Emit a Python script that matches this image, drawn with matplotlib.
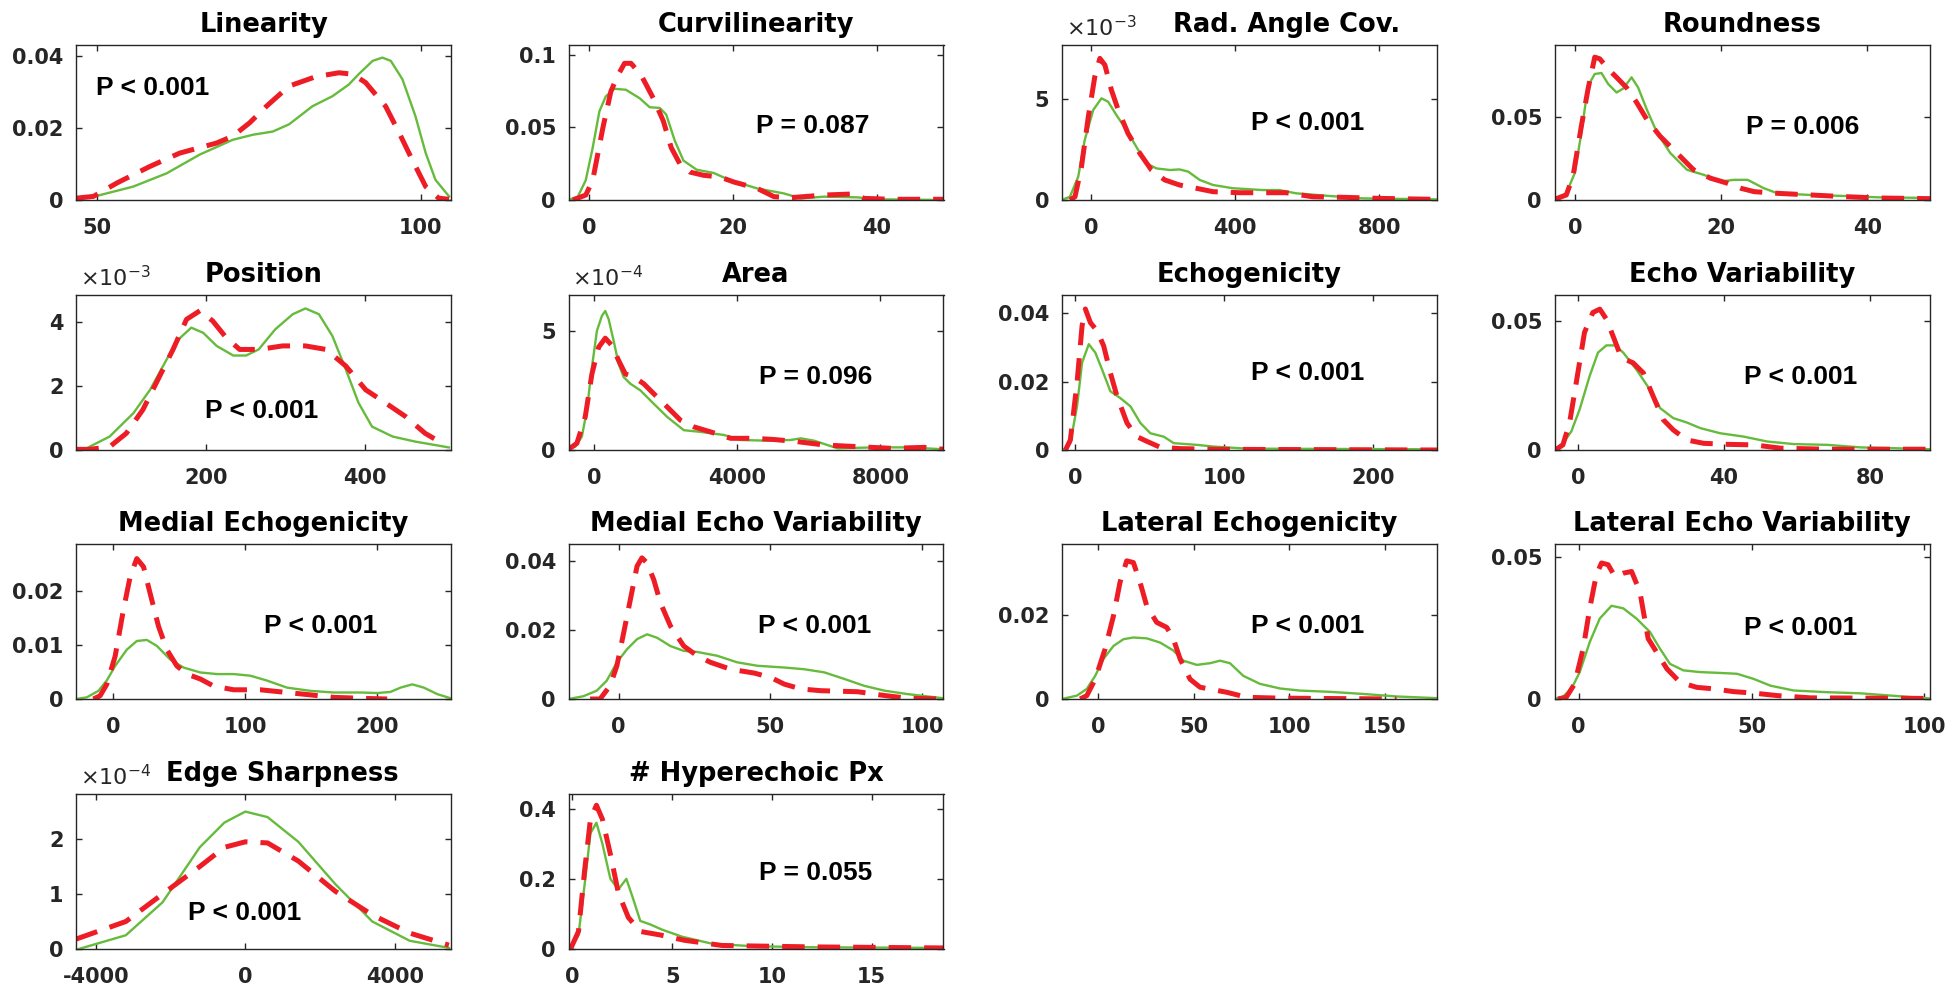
import matplotlib
matplotlib.use('Agg')
import matplotlib.pyplot as plt

plt.rcParams['axes.unicode_minus'] = False
plt.rcParams['font.family'] = ['DejaVu Sans']

# ---------------- data ----------------
titles = ['Linearity', 'Curvilinearity', 'Rad. Angle Cov.', 'Roundness',
          'Position', 'Area', 'Echogenicity', 'Echo Variability',
          'Medial Echogenicity', 'Medial Echo Variability', 'Lateral Echogenicity',
          'Lateral Echo Variability', 'Edge Sharpness', '# Hyperechoic Px']
p_texts = ['P < 0.001', 'P = 0.087', 'P < 0.001', 'P = 0.006',
           'P < 0.001', 'P = 0.096', 'P < 0.001', 'P < 0.001',
           'P < 0.001', 'P < 0.001', 'P < 0.001', 'P < 0.001',
           'P < 0.001', 'P = 0.055']
y_exponents = [None, None, -3, None, -3, -4, None, None, None, None, None, None, -4, None]

x_limits = [(46.8, 104.7), (-2.9, 49.3), (-80, 960), (-2.85, 48.5),
            (35.6, 508.6), (-720, 9766), (-9, 243), (-6.4, 96.2),
            (-28.4, 256), (-16.5, 107.1), (-19.1, 177.4), (-7, 101.5),
            (-4533, 5507), (-0.2, 18.6)]
y_tops = [0.043, 0.1066, 7.65, 0.093, 4.84, 6.5, 0.0454, 0.0603,
          0.0286, 0.0448, 0.0368, 0.0547, 2.82, 0.442]

x_ticks = [[50, 100], [0, 20, 40], [0, 400, 800], [0, 20, 40],
           [200, 400], [0, 4000, 8000], [0, 100, 200], [0, 40, 80],
           [0, 100, 200], [0, 50, 100], [0, 50, 100, 150], [0, 50, 100],
           [-4000, 0, 4000], [0, 5, 10, 15]]
x_tick_labels = [['50', '100'], ['0', '20', '40'], ['0', '400', '800'], ['0', '20', '40'],
                 ['200', '400'], ['0', '4000', '8000'], ['0', '100', '200'], ['0', '40', '80'],
                 ['0', '100', '200'], ['0', '50', '100'], ['0', '50', '100', '150'], ['0', '50', '100'],
                 ['-4000', '0', '4000'], ['0', '5', '10', '15']]
y_ticks = [[0, 0.02, 0.04], [0, 0.05, 0.1], [0, 5], [0, 0.05],
           [0, 2, 4], [0, 5], [0, 0.02, 0.04], [0, 0.05],
           [0, 0.01, 0.02], [0, 0.02, 0.04], [0, 0.02], [0, 0.05],
           [0, 1, 2], [0, 0.2, 0.4]]
y_tick_labels = [['0', '0.02', '0.04'], ['0', '0.05', '0.1'], ['0', '5'], ['0', '0.05'],
                 ['0', '2', '4'], ['0', '5'], ['0', '0.02', '0.04'], ['0', '0.05'],
                 ['0', '0.01', '0.02'], ['0', '0.02', '0.04'], ['0', '0.02'], ['0', '0.05'],
                 ['0', '1', '2'], ['0', '0.2', '0.4']]

# Linearity
linearity_g_x = [49.7, 55.6, 60.8, 65.9, 71.0, 74.1, 77.2, 79.7, 83.3, 86.4, 88.9, 90.5, 92.6, 94.1, 95.4, 97.2, 99.2, 100.8, 102.3, 104.4]
linearity_g_y = [0.001, 0.0037, 0.0074, 0.0126, 0.0167, 0.0181, 0.019, 0.021, 0.026, 0.0288, 0.032, 0.035, 0.0386, 0.0395, 0.0386, 0.0335, 0.0233, 0.013, 0.0056, 0.001]
linearity_r_x = [46.8, 49.5, 53.1, 58.2, 62.8, 68.5, 71.0, 73.6, 76.2, 79.7, 83.8, 87.4, 89.5, 91.5, 94.6, 96.7, 98.7, 100.8, 102.8, 104.4]
linearity_r_y = [0.0005, 0.001, 0.0047, 0.0093, 0.013, 0.0158, 0.0177, 0.0214, 0.026, 0.0316, 0.0342, 0.0353, 0.0349, 0.0326, 0.026, 0.0186, 0.0112, 0.0037, 0.0005, 0.0002]

# Curvilinearity
curvi_g_x = [-2.9, -1.6, -0.5, 0.47, 1.4, 2.3, 3.5, 5.1, 7.0, 8.4, 9.8, 10.7, 11.9, 13.1, 14.95, 17.3, 19.6, 23.4, 27.1, 29.4, 32.7, 37.4, 39.7, 49.3]
curvi_g_y = [0, 0.0023, 0.0136, 0.036, 0.061, 0.0713, 0.0765, 0.0758, 0.070, 0.0638, 0.0633, 0.0588, 0.0407, 0.0271, 0.0208, 0.0186, 0.0136, 0.0079, 0.0045, 0.0011, 0.0023, 0.0018, 0.0005, 0]
curvi_r_x = [-2.3, -0.5, 0.47, 1.9, 3.0, 4.0, 4.9, 5.8, 7.2, 8.9, 10.3, 11.4, 12.6, 14.0, 15.9, 18.2, 20.1, 23.4, 25.7, 28.0, 32.7, 36.4, 38.3, 42.0, 49.3]
curvi_r_y = [0, 0.0034, 0.0136, 0.05, 0.0747, 0.086, 0.094, 0.094, 0.086, 0.070, 0.0543, 0.036, 0.0249, 0.0192, 0.017, 0.0158, 0.0124, 0.0079, 0.0023, 0.0016, 0.0034, 0.0041, 0.0011, 0.0005, 0.0005]

# Rad. Angle Cov. (x1e-3)
radang_g_x = [-81, -58, -35, -17, 6.5, 29.5, 48, 71, 99, 126, 154, 182, 219, 246, 270, 302, 339, 394, 477, 523, 569, 661, 754, 961]
radang_g_y = [0, 0.16, 1.15, 2.96, 4.44, 5.02, 4.85, 4.19, 3.45, 2.63, 1.81, 1.56, 1.48, 1.51, 1.4, 0.99, 0.74, 0.58, 0.49, 0.49, 0.33, 0.2, 0.08, 0.03]
radang_r_x = [-58, -44, -26, -7, 11, 25, 39, 57, 76, 103, 136, 168, 205, 246, 292, 339, 412, 477, 541, 615, 707, 800, 961]
radang_r_y = [0, 0.16, 1.64, 4.11, 6.09, 6.99, 6.66, 5.43, 4.44, 3.29, 2.3, 1.48, 0.99, 0.74, 0.58, 0.41, 0.36, 0.36, 0.36, 0.16, 0.13, 0.08, 0.03]

# Roundness
round_g_x = [-2.85, -1.24, -0.09, 0.83, 1.74, 2.66, 3.58, 4.5, 5.65, 6.57, 7.7, 8.6, 9.78, 11.2, 13.0, 15.3, 17.6, 19.9, 21.7, 23.6, 25.8, 27.7, 32.3, 36.9, 41.5, 48.6]
round_g_y = [0.0004, 0.004, 0.016, 0.0403, 0.0685, 0.0756, 0.0762, 0.0696, 0.0645, 0.0669, 0.0736, 0.0675, 0.0544, 0.0403, 0.0282, 0.0181, 0.0151, 0.0111, 0.0121, 0.0121, 0.0071, 0.004, 0.003, 0.0024, 0.0016, 0.0012]
round_r_x = [-2.85, -1.24, -0.32, 0.83, 1.74, 2.66, 3.35, 4.5, 5.65, 7.0, 8.4, 9.78, 11.6, 13.9, 16.2, 18.5, 20.8, 22.6, 24.5, 27.7, 32.3, 36.9, 41.5, 48.6]
round_r_y = [0.0004, 0.003, 0.0141, 0.0444, 0.0665, 0.0857, 0.0847, 0.0786, 0.0736, 0.0675, 0.0585, 0.0484, 0.0383, 0.0282, 0.0181, 0.0131, 0.0101, 0.0071, 0.005, 0.004, 0.003, 0.002, 0.0012, 0.0008]

# Position (x1e-3)
pos_g_x = [51, 78, 108, 129, 150, 166, 181, 196, 213, 234, 250, 266, 287, 309, 325, 342, 359, 376, 392, 409, 435, 464, 506]
pos_g_y = [0.08, 0.42, 1.15, 1.88, 2.83, 3.48, 3.82, 3.66, 3.25, 2.95, 2.95, 3.14, 3.77, 4.24, 4.42, 4.24, 3.56, 2.51, 1.47, 0.73, 0.42, 0.26, 0.08]
pos_r_x = [36, 53, 78, 99, 120, 141, 158, 175, 192, 208, 225, 242, 267, 296, 325, 351, 376, 401, 426, 451, 476, 501]
pos_r_y = [0.02, 0.02, 0.1, 0.52, 1.26, 2.3, 3.14, 4.08, 4.35, 4.03, 3.51, 3.14, 3.14, 3.25, 3.25, 3.14, 2.62, 1.88, 1.47, 1.05, 0.52, 0.16]

# Area (x1e-4)
area_g_x = [-720, -533, -346, -206, -65, 75, 215, 308, 402, 542, 682, 822, 1009, 1290, 1664, 2037, 2505, 2972, 3626, 4093, 4841, 5495, 5776, 6150, 6804, 7832, 8766, 9766]
area_g_y = [0.03, 0.14, 0.56, 1.67, 3.47, 5.0, 5.63, 5.83, 5.49, 4.58, 3.61, 3.06, 2.78, 2.5, 1.94, 1.39, 0.83, 0.76, 0.63, 0.42, 0.39, 0.42, 0.49, 0.39, 0.07, 0.11, 0.11, 0.03]
area_r_x = [-720, -486, -252, -65, 122, 308, 495, 682, 869, 1103, 1383, 1664, 2037, 2411, 2785, 3252, 3813, 4467, 5028, 5682, 6430, 7364, 8299, 9234, 9766]
area_r_y = [0.03, 0.28, 1.39, 3.19, 4.31, 4.69, 4.38, 3.75, 3.19, 3.06, 2.78, 2.36, 1.81, 1.25, 0.97, 0.76, 0.49, 0.49, 0.44, 0.35, 0.21, 0.14, 0.07, 0.11, 0.03]

# Echogenicity
echo_g_x = [-7.8, -3.4, 1.1, 4.5, 9.0, 13.4, 17.9, 23.5, 30.2, 37.0, 43.7, 50.4, 59.4, 66.1, 81.8, 93, 115, 243]
echo_g_y = [0, 0.002, 0.0128, 0.0256, 0.031, 0.0285, 0.0236, 0.0172, 0.0152, 0.0128, 0.0079, 0.0049, 0.0039, 0.002, 0.0015, 0.001, 0.0004, 0.0002]
echo_r_x = [-6.7, -3.4, 1.1, 4.5, 6.7, 10.1, 14.6, 19.0, 23.5, 28.0, 34.7, 41.4, 48.2, 57.0, 70.5, 93, 243]
echo_r_y = [0, 0.0029, 0.0197, 0.0364, 0.0413, 0.0373, 0.0349, 0.0305, 0.0226, 0.0157, 0.0079, 0.0039, 0.0025, 0.0008, 0.0004, 0.0002, 0]

# Echo Variability
echovar_g_x = [-6.2, -4.1, -1.8, 0.46, 3.2, 5.5, 7.8, 10.1, 12.4, 16.0, 19.7, 22.5, 26.1, 29.8, 33.5, 39.0, 45.4, 51.8, 59.1, 68.3, 77.5, 86.6, 96.2]
echovar_g_y = [0.0003, 0.0026, 0.0072, 0.0157, 0.0287, 0.0379, 0.0407, 0.0407, 0.0379, 0.0313, 0.0235, 0.0163, 0.0124, 0.0107, 0.0085, 0.0065, 0.0052, 0.0033, 0.0023, 0.002, 0.001, 0.0007, 0.0003]
echovar_r_x = [-6.2, -4.1, -2.3, -0.46, 1.8, 4.1, 6.0, 7.8, 9.6, 11.9, 15.1, 17.9, 20.6, 23.4, 26.1, 29.8, 34.4, 40.8, 48.1, 55.5, 68.3, 96.2]
echovar_r_y = [0, 0.002, 0.0104, 0.0261, 0.0457, 0.0535, 0.0548, 0.0509, 0.0444, 0.0359, 0.0339, 0.030, 0.0209, 0.0117, 0.0078, 0.0039, 0.0026, 0.0022, 0.002, 0.0007, 0.0003, 0.0003]

# Medial Echogenicity
medecho_g_x = [-28.4, -20.3, -11.4, -5.1, 1.3, 10.1, 17.7, 25.3, 32.9, 43, 53.2, 65.8, 78.5, 91.1, 103.8, 116.5, 131.6, 149.4, 167, 187.3, 200, 210, 217.7, 226.6, 235.4, 245.6, 256.2]
medecho_g_y = [0, 0.0003, 0.0015, 0.0034, 0.0061, 0.0091, 0.0107, 0.0109, 0.0098, 0.0073, 0.0058, 0.0049, 0.0046, 0.0046, 0.0043, 0.0034, 0.0021, 0.0015, 0.0012, 0.0012, 0.0011, 0.0013, 0.0021, 0.0027, 0.0021, 0.0009, 0.0001]
medecho_r_x = [-15.2, -10.1, -5.1, 1.3, 7.6, 12.7, 17.7, 22.8, 27.8, 34.2, 40.5, 48.1, 55.7, 65.8, 75.9, 91.1, 111.4, 131.6, 151.9, 167, 192.4, 207.6]
medecho_r_y = [0, 0.0006, 0.0027, 0.0079, 0.0165, 0.0226, 0.0259, 0.0244, 0.0195, 0.0134, 0.0091, 0.0061, 0.0046, 0.0037, 0.0024, 0.0017, 0.0017, 0.0012, 0.0007, 0.0003, 0.0001, 0]

# Medial Echo Variability
medvar_g_x = [-16.5, -11.6, -7.2, -3.9, -0.55, 2.8, 6.1, 9.4, 12.7, 17.1, 21.5, 25.9, 32.5, 39.1, 45.8, 54.6, 61.2, 67.8, 74.4, 81.0, 87.7, 95.4, 107.2]
medvar_g_y = [0, 0.0008, 0.0024, 0.0053, 0.0106, 0.0144, 0.0173, 0.0187, 0.0177, 0.0153, 0.0139, 0.0136, 0.0125, 0.0106, 0.0096, 0.0091, 0.0086, 0.0077, 0.0058, 0.0038, 0.0024, 0.0014, 0.0002]
medvar_r_x = [-9.4, -6.1, -2.8, -0.55, 1.7, 3.9, 6.1, 7.7, 9.4, 11.6, 13.8, 17.1, 21.5, 25.9, 30.3, 36.9, 44.7, 50.2, 54.6, 60.1, 66.7, 78.8, 87.7, 95.4, 107.2]
medvar_r_y = [0, 0, 0.0038, 0.0096, 0.0192, 0.0288, 0.0384, 0.0408, 0.0393, 0.0345, 0.0278, 0.0211, 0.0153, 0.0125, 0.0106, 0.0086, 0.0075, 0.0062, 0.0043, 0.0029, 0.0024, 0.0021, 0.001, 0.0002, 0]

# Lateral Echogenicity
latecho_g_x = [-19.2, -11.3, -6.1, -1.7, 2.6, 7.9, 13.1, 18.3, 25.3, 32.3, 39.3, 44.5, 51.5, 58.5, 63.7, 68.9, 75.9, 84.6, 95.1, 105.6, 121.3, 138.7, 156.2, 177.5]
latecho_g_y = [0, 0.0008, 0.0024, 0.0055, 0.0095, 0.0126, 0.0142, 0.0146, 0.0144, 0.0134, 0.0115, 0.0091, 0.0081, 0.0085, 0.0091, 0.0085, 0.0055, 0.0036, 0.0025, 0.002, 0.0017, 0.0012, 0.0006, 0.0002]
latecho_r_x = [-9.6, -6.1, -1.7, 3.5, 7.9, 11.3, 14.8, 18.3, 21.8, 25.3, 30.5, 35.8, 39.3, 42.8, 48.0, 53.2, 60.2, 67.2, 77.7, 95.1, 156.2]
latecho_r_y = [0, 0.0008, 0.0047, 0.0119, 0.0198, 0.0277, 0.0328, 0.0324, 0.0277, 0.0221, 0.0182, 0.017, 0.0142, 0.0095, 0.0047, 0.0028, 0.0022, 0.0016, 0.0004, 0.0002, 0]

# Lateral Echo Variability
latvar_g_x = [-7, -4.5, -2.1, 0.3, 3.2, 6.1, 9.5, 12.9, 16.7, 20.6, 23.5, 26.4, 30.3, 35.1, 40.9, 45.8, 50.6, 55.5, 62.2, 71.9, 81.6, 90.3, 101.5]
latvar_g_y = [0, 0.0009, 0.0036, 0.0095, 0.0201, 0.0284, 0.0329, 0.032, 0.0284, 0.0237, 0.0178, 0.0124, 0.0101, 0.0095, 0.0092, 0.0089, 0.0071, 0.0047, 0.003, 0.0024, 0.002, 0.0012, 0.0002]
latvar_r_x = [-6, -3.6, -1.2, 1.3, 3.2, 5.1, 6.6, 8.5, 10.5, 12.9, 15.3, 17.7, 20.1, 22.5, 25.5, 29.3, 34.2, 39.0, 44.8, 50.6, 57.4, 67.1, 101.5]
latvar_r_y = [0, 0.0006, 0.0053, 0.0178, 0.032, 0.0438, 0.048, 0.0474, 0.0432, 0.0444, 0.045, 0.0379, 0.0213, 0.0166, 0.0107, 0.0059, 0.0041, 0.0036, 0.0026, 0.0021, 0.0012, 0.0004, 0.0002]

# Edge Sharpness (x1e-4)
edge_g_x = [-4460, -3200, -2215, -1220, -560, 0, 595, 1420, 2410, 3400, 4400, 5450]
edge_g_y = [0.0, 0.25, 0.85, 1.85, 2.3, 2.5, 2.4, 1.95, 1.18, 0.5, 0.15, 0.02]
edge_r_x = [-4533, -3200, -2215, -1220, -560, 0, 595, 1420, 2410, 3400, 4400, 5450]
edge_r_y = [0.18, 0.5, 1.0, 1.5, 1.85, 1.95, 1.93, 1.6, 1.05, 0.62, 0.29, 0.07]

# # Hyperechoic Px
hyper_g_x = [-0.1, 0.3, 0.6, 0.9, 1.2, 1.5, 1.9, 2.3, 2.7, 3.0, 3.4, 3.9, 4.5, 5.5, 7.0, 9.0, 12.0, 18.6]
hyper_g_y = [0, 0.04, 0.18, 0.33, 0.36, 0.3, 0.2, 0.17, 0.2, 0.15, 0.08, 0.07, 0.055, 0.035, 0.015, 0.008, 0.005, 0.003]
hyper_r_x = [-0.1, 0.3, 0.6, 0.9, 1.2, 1.5, 1.9, 2.3, 2.8, 3.4, 4.4, 5.6, 7.5, 12.0, 18.6]
hyper_r_y = [0, 0.05, 0.22, 0.37, 0.41, 0.37, 0.27, 0.16, 0.09, 0.05, 0.04, 0.025, 0.01, 0.006, 0.003]

green_x = [linearity_g_x, curvi_g_x, radang_g_x, round_g_x, pos_g_x, area_g_x, echo_g_x,
           echovar_g_x, medecho_g_x, medvar_g_x, latecho_g_x, latvar_g_x, edge_g_x, hyper_g_x]
green_y = [linearity_g_y, curvi_g_y, radang_g_y, round_g_y, pos_g_y, area_g_y, echo_g_y,
           echovar_g_y, medecho_g_y, medvar_g_y, latecho_g_y, latvar_g_y, edge_g_y, hyper_g_y]
red_x = [linearity_r_x, curvi_r_x, radang_r_x, round_r_x, pos_r_x, area_r_x, echo_r_x,
         echovar_r_x, medecho_r_x, medvar_r_x, latecho_r_x, latvar_r_x, edge_r_x, hyper_r_x]
red_y = [linearity_r_y, curvi_r_y, radang_r_y, round_r_y, pos_r_y, area_r_y, echo_r_y,
         echovar_r_y, medecho_r_y, medvar_r_y, latecho_r_y, latvar_r_y, edge_r_y, hyper_r_y]

# ---------------- layout / style ----------------
W, H = 1950, 994
col_left = [76, 568.5, 1062, 1554.5]
row_top = [45, 295, 544, 794]
AX_W, AX_H = 375, 155
p_pos = [(0.205, 0.725), (0.65, 0.476), (0.654, 0.498), (0.661, 0.472),
         (0.494, 0.249), (0.66, 0.472), (0.654, 0.498), (0.657, 0.472),
         (0.653, 0.469), (0.656, 0.469), (0.654, 0.469), (0.657, 0.46),
         (0.45, 0.23), (0.66, 0.49)]
title_x = [0.5, 0.5, 0.6, 0.5, 0.5, 0.5, 0.5, 0.5, 0.5, 0.5, 0.5, 0.5, 0.55, 0.5]

GREEN = '#66BB3C'
RED = '#EE1C25'
AXC = '#262626'

fig = plt.figure(figsize=(W / 100, H / 100), dpi=100)
for i in range(len(titles)):
    r, c = divmod(i, 4)
    l, t = col_left[c], row_top[r]
    ax = fig.add_axes([l / W, 1 - (t + AX_H) / H, AX_W / W, AX_H / H])
    ax.plot(green_x[i], green_y[i], color=GREEN, lw=1.7, solid_joinstyle='round')
    ax.plot(red_x[i], red_y[i], color=RED, lw=3.6, dashes=(4.5, 2.6), dash_capstyle='butt')
    ax.set_xlim(*x_limits[i])
    ax.set_ylim(0, y_tops[i])
    ax.set_xticks(x_ticks[i])
    ax.set_xticklabels(x_tick_labels[i])
    ax.set_yticks(y_ticks[i])
    ax.set_yticklabels(y_tick_labels[i])
    ax.tick_params(direction='in', top=True, right=True, length=4, width=1,
                   labelsize=15, colors=AXC)
    ax.tick_params(axis='x', pad=13)
    ax.tick_params(axis='y', pad=9)
    for lab in ax.get_xticklabels() + ax.get_yticklabels():
        lab.set_fontweight('bold')
    for s in ax.spines.values():
        s.set_color(AXC)
        s.set_linewidth(1.0)
    ax.set_title(titles[i], fontsize=18.5, fontweight='bold', pad=9.5, x=title_x[i])
    ax.text(p_pos[i][0], p_pos[i][1], p_texts[i], transform=ax.transAxes,
            ha='center', va='center', fontsize=19, fontweight='bold',
            family=['Liberation Sans', 'DejaVu Sans'])
    if y_exponents[i] is not None:
        ax.text(0.01, 1.055, r'$\times10^{%d}$' % y_exponents[i], transform=ax.transAxes,
                ha='left', va='baseline', fontsize=16, color=AXC)

fig.savefig('out.png', dpi=100)
